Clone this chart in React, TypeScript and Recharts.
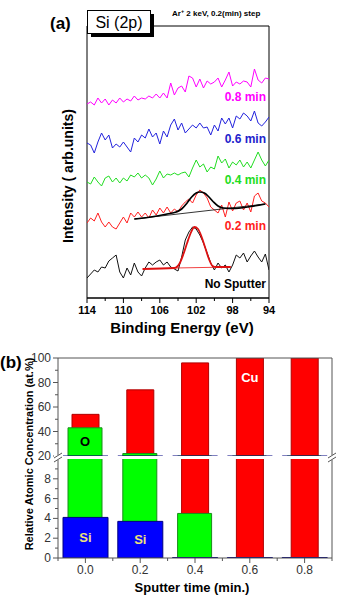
import { LineChart, Line, XAxis, YAxis, ReferenceArea, BarChart, Bar, LabelList } from 'recharts'

// --- (a) Si 2p spectra, binding energy grid (eV) ---
const energies = [
  114, 113.6, 113.2, 112.8, 112.4, 112, 111.6, 111.2, 110.8, 110.4, 110, 109.6, 109.2,
  108.8, 108.4, 108, 107.6, 107.2, 106.8, 106.4, 106, 105.6, 105.2, 104.8, 104.4, 104,
  103.6, 103.2, 102.8, 102.4, 102, 101.6, 101.2, 100.8, 100.4, 100, 99.6, 99.2, 98.8,
  98.4, 98, 97.6, 97.2, 96.8, 96.4, 96, 95.6, 95.2, 94.8, 94.4, 94,
]

// intensities, stacked with vertical offsets (arb. units)
const spec08 = [
  194, 196, 193, 200, 195, 199, 193, 198, 195, 200, 196, 199, 197, 202, 198, 200, 199,
  202, 200, 204, 200, 205, 200, 215, 203, 210, 212, 206, 222, 220, 211, 219, 210, 217,
  214, 216, 220, 211, 218, 226, 212, 216, 214, 217, 216, 211, 229, 218, 215, 220, 219,
]
const spec06 = [
  155, 153, 145, 156, 165, 158, 163, 150, 154, 151, 156, 151, 146, 160, 156, 163, 160,
  169, 161, 165, 154, 167, 161, 173, 179, 168, 175, 165, 169, 173, 170, 175, 170, 171,
  163, 173, 167, 180, 174, 180, 170, 182, 179, 185, 182, 177, 187, 175, 172, 176, 181,
]
const spec04 = [
  116, 114, 121, 116, 112, 120, 122, 116, 120, 115, 120, 117, 123, 121, 125, 120, 123,
  120, 113, 119, 127, 120, 124, 123, 125, 123, 125, 126, 121, 130, 138, 131, 134, 126,
  131, 129, 142, 135, 139, 130, 136, 133, 138, 131, 136, 130, 138, 146, 138, 132, 138,
]
const spec02 = [
  75, 80, 77, 85, 76, 71, 76, 71, 69, 75, 81, 75, 85, 81, 86, 81, 85, 80, 88, 83, 90,
  85, 91, 85, 89, 86, 92, 96, 99, 95, 103, 108, 105, 100, 91, 88, 85, 93, 81, 96, 87,
  95, 97, 88, 95, 86, 102, 105, 97, 95, 91,
]
const spec00 = [
  20, 24, 28, 26, 31, 30, 37, 40, 43, 26, 20, 30, 23, 35, 26, 22, 30, 36, 33, 36, 38,
  33, 36, 31, 29, 27, 41, 58, 66, 71, 69, 63, 55, 45, 35, 28, 35, 30, 33, 26, 33, 43,
  40, 45, 36, 42, 47, 41, 36, 44, 28,
]

// peak fits
const fit02Ev = [108.8, 107, 105.2, 104.2, 103.6, 103.0, 102.5, 102.0, 101.6, 101.1, 100.6, 100.1, 99.6, 99.0, 98.0, 96.0, 94.4]
const fit02Val = [79, 81, 84, 86, 89, 95, 101, 105, 106, 105, 101, 96, 92, 90, 89.5, 91.5, 94]
const base02Ev = [108.8, 94.4]
const base02Val = [79, 94]
const fit00Ev = [107.9, 104.4, 103.8, 103.4, 103.0, 102.6, 102.2, 101.8, 101.4, 101.0, 100.6, 100.2, 99.8, 98.2]
const fit00Val = [29, 30, 35, 44, 55, 65, 71, 69, 61, 50, 39, 32, 31, 31]
const base00Ev = [104.4, 98.2]
const base00Val = [30, 31]

const energyTicks = [114, 112, 110, 108, 106, 104, 102, 100, 98, 96, 94]
const energyLabels = [114, 110, 106, 102, 98, 94]

// --- (b) depth profile ---
const times = [0, 0.2, 0.4, 0.6, 0.8]
const cuConc = [54, 74, 96, 100, 100]
const oConc = [43, 22, 4.5, 0, 0]
const siConc = [4.1, 3.7, 0.05, 0.05, 0.05]
const cuTags = ['', '', '', 'Cu', '']
const oTags = ['O', '', '', '', '']
const siTags = ['Si', 'Si', '', '', '']

const upperTicks = [20, 30, 40, 50, 60, 70, 80, 90, 100]
const lowerTicks = [0, 1, 2, 3, 4, 5, 6, 7, 8, 9]
const timeTicks = [-0.1, 0, 0.1, 0.2, 0.3, 0.4, 0.5, 0.6, 0.7, 0.8, 0.9]

const FONT = 'Arial, "Liberation Sans", sans-serif'
const AXIS = '#555'

const specRows = energies.map((ev, i) => ({
  ev, m: spec08[i], b: spec06[i], g: spec04[i], r: spec02[i], k: spec00[i],
}))
const pairs = (xs: number[], ys: number[]) => xs.map((ev, i) => ({ ev, v: ys[i] }))

const concRows = times.map((t, i) => ({
  t, cu: cuConc[i], o: oConc[i], si: siConc[i], cuTag: cuTags[i], oTag: oTags[i], siTag: siTags[i],
}))

function EnergyTick(props: any) {
  const { x, y, payload } = props
  const major = energyLabels.includes(payload.value)
  return (
    <g>
      <line x1={x} y1={y} x2={x} y2={y + (major ? 5 : 3)} stroke="#000" />
      {major && (
        <text x={x} y={y + 12} textAnchor="middle" dominantBaseline="central"
          fontSize={11} fontWeight="bold" fontFamily={FONT} fill="#000">{payload.value}</text>
      )}
    </g>
  )
}

function ConcTick(props: any) {
  const { x, y, payload, every } = props
  const major = payload.value % every === 0
  return (
    <g>
      <line x1={x} y1={y} x2={x - (major ? 5 : 3)} y2={y} stroke={AXIS} />
      {major && (
        <text x={x - 7} y={y} textAnchor="end" dominantBaseline="central"
          fontSize={12} fontFamily={FONT} fill="#333">{payload.value}</text>
      )}
    </g>
  )
}

function TimeTick(props: any) {
  const { x, y, payload } = props
  const major = Math.abs(Math.round(payload.value * 10)) % 2 === 0
  return (
    <g>
      <line x1={x} y1={y} x2={x} y2={y + (major ? 5 : 3)} stroke={AXIS} />
      {major && (
        <text x={x} y={y + 12} textAnchor="middle" dominantBaseline="central"
          fontSize={12} fontFamily={FONT} fill="#333">{payload.value.toFixed(1)}</text>
      )}
    </g>
  )
}

// element tag inside a bar, dy from bar top or centred
const barTag = (color: string, dy: number | null) => (p: any) => {
  const vb = p.viewBox ?? p
  const { x, y, width, height } = vb
  if (!p.value) return null
  const ty = dy === null ? y + height / 2 : y + dy
  return (
    <text x={x + width / 2} y={ty} textAnchor="middle" dominantBaseline="central"
      fontSize={13} fontWeight="bold" fontFamily={FONT} fill={color}>{p.value}</text>
  )
}

// one category axis per element so the bars overlap instead of sitting side by side
function BandAxes({ side }: { side: 'top' | 'bottom' }) {
  return ['cu', 'o', 'si'].map((id) => (
    <XAxis key={id} xAxisId={id} dataKey="t" orientation={side} hide />
  ))
}

function ConcBars({ upper }: { upper: boolean }) {
  return [
    <Bar key="cu" xAxisId="cu" dataKey="cu" barSize={27} fill="#ff0000" stroke="#b00000"
      isAnimationActive={false}>
      {upper && <LabelList dataKey="cuTag" content={barTag('#fff', 19)} />}
    </Bar>,
    <Bar key="o" xAxisId="o" dataKey="o" barSize={34} fill="#00ff00" stroke="#1a8c1a"
      isAnimationActive={false}>
      {upper && <LabelList dataKey="oTag" content={barTag('#000', 14)} />}
    </Bar>,
    <Bar key="si" xAxisId="si" dataKey="si" barSize={45} fill="#0000ff" stroke="#000080"
      isAnimationActive={false}>
      {!upper && <LabelList dataKey="siTag" content={barTag('#eee27a', null)} />}
    </Bar>,
  ]
}

export default function App() {
  return (
    <div style={{ position: 'relative', width: 340, height: 599, background: '#fff', fontFamily: FONT }}>
      <style>{'body{margin:0}'}</style>

      <div style={{ position: 'absolute', left: 0, top: 0 }}>
        <LineChart width={340} height={340} data={specRows} margin={{ top: 26, right: 71, bottom: 12, left: 87 }}>
          <XAxis dataKey="ev" type="number" domain={[94, 114]} reversed allowDataOverflow
            ticks={energyTicks} interval={0} height={30} tickSize={0} tickMargin={0}
            tickLine={false} tick={<EnergyTick />} axisLine={{ stroke: '#000' }} />
          <YAxis type="number" domain={[0, 272]} allowDataOverflow hide />
          <ReferenceArea x1={94} x2={114} y1={0} y2={272} fill="none" stroke="#000" />
          <Line dataKey="m" stroke="#ff00ff" strokeWidth={1} dot={false} isAnimationActive={false} />
          <Line dataKey="b" stroke="#2222dd" strokeWidth={1} dot={false} isAnimationActive={false} />
          <Line dataKey="g" stroke="#22dd22" strokeWidth={1} dot={false} isAnimationActive={false} />
          <Line dataKey="r" stroke="#ff2020" strokeWidth={1} dot={false} isAnimationActive={false} />
          <Line dataKey="k" stroke="#111" strokeWidth={1} dot={false} isAnimationActive={false} />
          <Line data={pairs(base02Ev, base02Val)} dataKey="v" stroke="#000" strokeWidth={0.8} dot={false} isAnimationActive={false} />
          <Line data={pairs(fit02Ev, fit02Val)} dataKey="v" type="monotone" stroke="#000" strokeWidth={1.7} dot={false} isAnimationActive={false} />
          <Line data={pairs(base00Ev, base00Val)} dataKey="v" stroke="#ee1111" strokeWidth={0.8} dot={false} isAnimationActive={false} />
          <Line data={pairs(fit00Ev, fit00Val)} dataKey="v" type="monotone" stroke="#dd1111" strokeWidth={1.8} dot={false} isAnimationActive={false} />
        </LineChart>
      </div>

      {/* lower segment 0–10 */}
      <div style={{ position: 'absolute', left: 0, top: 450 }}>
        <BarChart width={340} height={150} data={concRows} margin={{ top: 9, right: 7, bottom: 12, left: 57 }}>
          <XAxis xAxisId="time" dataKey="t" type="number" domain={[-0.1, 0.9]} allowDataOverflow
            ticks={timeTicks} interval={0} height={30} tickSize={0} tickMargin={0} tickLine={false}
            tick={<TimeTick />} axisLine={{ stroke: AXIS }} />
          {BandAxes({ side: 'top' })}
          <YAxis domain={[0, 10]} allowDataOverflow ticks={lowerTicks} interval={0} width={1}
            tickSize={0} tickMargin={0} tickLine={false} tick={<ConcTick every={2} />} axisLine={{ stroke: AXIS }} />
          <YAxis yAxisId="r" orientation="right" domain={[0, 10]} allowDataOverflow width={1}
            tick={false} tickLine={false} axisLine={{ stroke: AXIS }} />
          {ConcBars({ upper: false })}
        </BarChart>
      </div>

      {/* upper segment 20–100 */}
      <div style={{ position: 'absolute', left: 0, top: 340 }}>
        <BarChart width={340} height={126} data={concRows} margin={{ top: 17, right: 7, bottom: 10, left: 57 }}>
          {BandAxes({ side: 'bottom' })}
          <XAxis xAxisId="frame" dataKey="t" orientation="top" height={1} tick={false} tickLine={false}
            axisLine={{ stroke: AXIS }} />
          <YAxis domain={[20, 100]} allowDataOverflow ticks={upperTicks} interval={0} width={1}
            tickSize={0} tickMargin={0} tickLine={false} tick={<ConcTick every={20} />} axisLine={{ stroke: AXIS }} />
          <YAxis yAxisId="r" orientation="right" domain={[20, 100]} allowDataOverflow width={1}
            tick={false} tickLine={false} axisLine={{ stroke: AXIS }} />
          {ConcBars({ upper: true })}
        </BarChart>
      </div>

      <svg width={340} height={599} style={{ position: 'absolute', left: 0, top: 0, pointerEvents: 'none' }}
        fontFamily={FONT}>
        {/* panel (a) annotations */}
        <text x={50} y={23} dominantBaseline="central" fontSize={17} fontWeight="bold">(a)</text>
        <rect x={91} y={14} width={63} height={23} fill="#000" />
        <rect x={87.5} y={10.5} width={63} height={23} fill="#fff" stroke="#000" />
        <text x={119} y={22.5} textAnchor="middle" dominantBaseline="central" fontSize={16}>Si (2p)</text>
        <text x={172} y={16} fontSize={8} fontWeight="bold">
          Ar<tspan dy={-3} fontSize={5.5}>+</tspan><tspan dy={3}> 2 keV, 0.2(min) step</tspan>
        </text>
        <text x={266} y={97} textAnchor="end" dominantBaseline="central" fontSize={12} fontWeight="bold" fill="#ff00ff">0.8 min</text>
        <text x={266} y={139} textAnchor="end" dominantBaseline="central" fontSize={12} fontWeight="bold" fill="#2222cc">0.6 min</text>
        <text x={266} y={180} textAnchor="end" dominantBaseline="central" fontSize={12} fontWeight="bold" fill="#22dd22">0.4 min</text>
        <text x={266} y={226} textAnchor="end" dominantBaseline="central" fontSize={12} fontWeight="bold" fill="#ff2020">0.2 min</text>
        <text x={266} y={284} textAnchor="end" dominantBaseline="central" fontSize={12} fontWeight="bold" fill="#000">No Sputter</text>
        <text x={68} y={176} transform="rotate(-90 68 176)" textAnchor="middle" dominantBaseline="central"
          fontSize={14} fontWeight="bold">Intensity ( arb.units)</text>
        <text x={182} y={327} textAnchor="middle" dominantBaseline="central" fontSize={15} fontWeight="bold">Binding Energy (eV)</text>

        {/* panel (b) annotations */}
        <text x={0} y={362} dominantBaseline="central" fontSize={17} fontWeight="bold">(b)</text>
        <text x={29} y={454} transform="rotate(-90 29 454)" textAnchor="middle" dominantBaseline="central"
          fontSize={11} fontWeight="bold">Relative Atomic Concentration (at.%)</text>
        <text x={192} y={587} textAnchor="middle" dominantBaseline="central" fontSize={13} fontWeight="bold">Sputter time (min.)</text>

        {/* axis breaks */}
        <rect x={54} y={455} width={8} height={5} fill="#fff" />
        <line x1={54} y1={458} x2={62} y2={453} stroke={AXIS} />
        <line x1={54} y1={462} x2={62} y2={457} stroke={AXIS} />
        <rect x={328} y={455} width={8} height={5} fill="#fff" />
        <line x1={328} y1={458} x2={336} y2={453} stroke={AXIS} />
        <line x1={328} y1={462} x2={336} y2={457} stroke={AXIS} />
      </svg>
    </div>
  )
}
